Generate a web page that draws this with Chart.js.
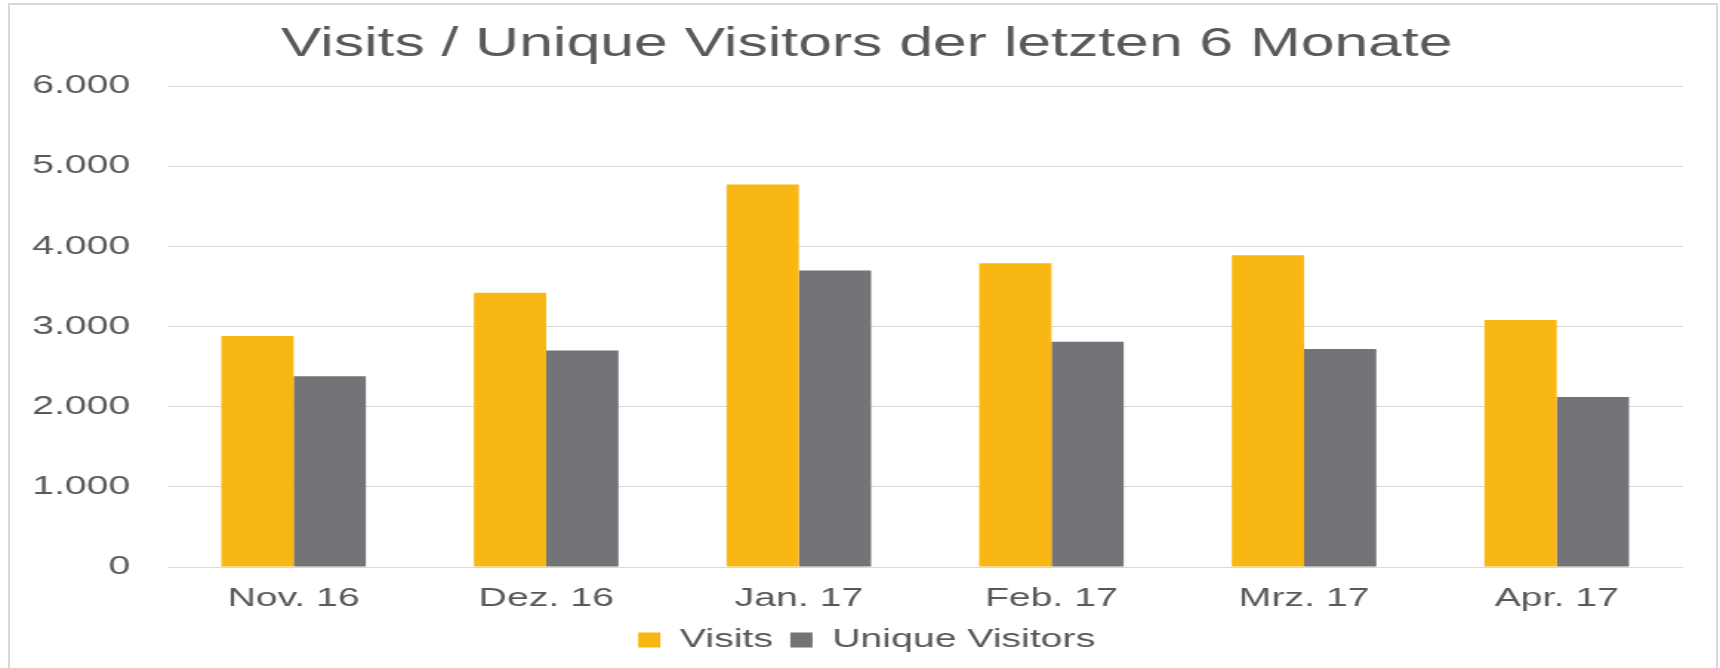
<!DOCTYPE html>
<html>
<head>
<meta charset="utf-8">
<script src="https://cdn.jsdelivr.net/npm/chart.js@4/dist/chart.umd.min.js"></script>
<style>
  html, body { margin: 0; padding: 0; background: #ffffff; overflow: hidden; }
  #wrap { position: relative; width: 1720px; height: 668px; }
  #frame { position: absolute; left: 8px; top: 3px; width: 1710px; height: 700px; box-sizing: border-box; border: 2px solid #d9d9d9; }
  #c { position: absolute; left: 0; top: 0; display: block; width: 1720px; height: 668px; }
</style>
</head>
<body>
<div id="wrap">
  <div id="frame"></div>
  <canvas id="c" width="1162" height="668" style="width:1720px;height:668px;"></canvas>
</div>
<script>
const categories = ['Nov. 16', 'Dez. 16', 'Jan. 17', 'Feb. 17', 'Mrz. 17', 'Apr. 17'];
const visits = [2880, 3420, 4770, 3790, 3890, 3080];
const uniqueVisitors = [2380, 2700, 3700, 2810, 2720, 2120];
const yTickLabels = ['0', '1.000', '2.000', '3.000', '4.000', '5.000', '6.000'];
const titleText = 'Visits / Unique Visitors der letzten 6 Monate';

const FONT = "'Liberation Sans', Arial, sans-serif";
const TEXT = '#595959';

new Chart(document.getElementById('c'), {
  type: 'bar',
  data: {
    labels: categories,
    datasets: [
      { label: 'Visits', data: visits, backgroundColor: '#F9B713', borderWidth: 0,
        categoryPercentage: 0.572, barPercentage: 1.0 },
      { label: 'Unique Visitors', data: uniqueVisitors, backgroundColor: '#747377', borderWidth: 0,
        categoryPercentage: 0.572, barPercentage: 1.0 }
    ]
  },
  options: {
    responsive: false,
    maintainAspectRatio: false,
    devicePixelRatio: 1,
    animation: false,
    layout: { padding: { left: 9, right: 0, top: 0, bottom: 4.75 } },
    plugins: {
      title: {
        display: true,
        text: titleText,
        color: TEXT,
        font: { family: FONT, size: 41, weight: 'normal' },
        padding: { top: 20, bottom: 16.8 }
      },
      legend: {
        display: true,
        position: 'bottom',
        labels: {
          color: TEXT,
          font: { family: FONT, size: 26.5 },
          boxWidth: 15,
          boxHeight: 15,
          padding: 11.75
        }
      },
      tooltip: { enabled: false }
    },
    scales: {
      x: {
        grid: { display: false, drawTicks: false },
        border: { display: false },
        ticks: { color: TEXT, font: { family: FONT, size: 26.5 }, padding: 16, maxRotation: 0, autoSkip: false },
        afterFit: (s) => { s.height = 48; }
      },
      y: {
        min: 0,
        max: 6000,
        grid: { color: '#d9d9d9', lineWidth: 1, drawTicks: false },
        border: { display: false },
        ticks: {
          stepSize: 1000,
          color: TEXT,
          font: { family: FONT, size: 26.5 },
          padding: 25,
          callback: (v, i) => yTickLabels[i]
        },
        afterFit: (s) => { s.width = 104; }
      },
      yR: {
        position: 'right',
        display: true,
        grid: { display: false, drawTicks: false },
        border: { display: false },
        ticks: { display: false },
        afterFit: (s) => { s.width = 25; }
      }
    }
  }
});
</script>
</body>
</html>
